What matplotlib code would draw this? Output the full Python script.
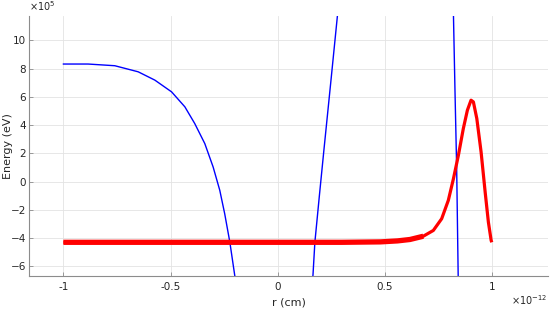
import matplotlib.pyplot as plt

# values (x in units of 1e-12 cm, energy in units of 1e5 eV)
blue_left_x = [-1.0, -0.885, -0.760, -0.651, -0.573, -0.495, -0.433, -0.387, -0.340,
               -0.301, -0.270, -0.247, -0.223, -0.200, -0.195]
blue_left_y = [8.32, 8.32, 8.20, 7.77, 7.18, 6.35, 5.29, 4.11, 2.69,
               1.03, -0.62, -2.28, -4.29, -6.66, -7.0]
blue_mid_x = [0.160, 0.165, 0.174, 0.195, 0.216, 0.250, 0.279, 0.285]
blue_mid_y = [-7.0, -6.65, -4.29, -1.0, 2.21, 7.3, 11.7, 12.5]
blue_right_x = [0.820, 0.828, 0.836, 0.843, 0.845]
blue_right_y = [12.5, 6.5, 0.92, -6.65, -7.0]

red_x = [-1.0, -0.5, 0.0, 0.3, 0.48, 0.56, 0.618, 0.680, 0.727, 0.766, 0.797, 0.821,
         0.844, 0.867, 0.886, 0.903, 0.914, 0.930, 0.950, 0.969, 0.984, 0.997, 1.0]
red_y = [-4.3, -4.3, -4.3, -4.3, -4.27, -4.2, -4.10, -3.87, -3.46, -2.63, -1.33, 0.21,
         1.86, 3.75, 5.05, 5.76, 5.64, 4.46, 2.09, -0.75, -2.87, -4.17, -4.3]
flat_end = 0.70

xticks = [-1, -0.5, 0, 0.5, 1]
xticklabels = ['-1', '-0.5', '0', '0.5', '1']
yticks = [-6, -4, -2, 0, 2, 4, 6, 8, 10]

txt = '#262626'
axc = '#8c8c8c'

fig = plt.figure(figsize=(5.5, 3.09), dpi=100)
ax = fig.add_axes([0.053, 0.1084, 0.944, 0.8398])

ax.plot(blue_left_x, blue_left_y, color='#0000ff', lw=1.0)
ax.plot(blue_mid_x, blue_mid_y, color='#0000ff', lw=1.0)
ax.plot(blue_right_x, blue_right_y, color='#0000ff', lw=1.0)

ax.plot(red_x, red_y, color='#ff0000', lw=2.3, solid_capstyle='butt', solid_joinstyle='round')
fx = [x for x in red_x if x <= flat_end]
fy = red_y[:len(fx)]
ax.plot(fx, fy, color='#ff0000', lw=3.8, solid_capstyle='butt', solid_joinstyle='round')

ax.set_xlim(-1.16, 1.264)
ax.set_ylim(-6.65, 11.72)
ax.set_xticks(xticks)
ax.set_xticklabels(xticklabels)
ax.set_yticks(yticks)

ax.grid(True, color='#e3e3e3', lw=0.6)
ax.set_axisbelow(True)

for s in ['top', 'right']:
    ax.spines[s].set_visible(False)
for s in ['left', 'bottom']:
    ax.spines[s].set_color(axc)
    ax.spines[s].set_linewidth(0.8)

ax.tick_params(direction='in', length=3, width=0.6, color=axc, labelcolor=txt, labelsize=7.5, pad=2)
ax.tick_params(axis='x', pad=5)

ax.set_xlabel('r (cm)', fontsize=8, color=txt)
ax.xaxis.set_label_coords(0.5, -0.083)
ax.set_ylabel('Energy (eV)', fontsize=8, color=txt)
ax.yaxis.set_label_coords(-0.031, 0.5)

ax.text(0.0, 1.01, r'$\times10^{5}$', fontsize=7, color=txt, transform=ax.transAxes,
        ha='left', va='bottom')
ax.text(0.998, -0.095, r'$\times10^{-12}$', fontsize=7, color=txt, transform=ax.transAxes,
        ha='right', va='center')

fig.savefig('out.png', dpi=100)
